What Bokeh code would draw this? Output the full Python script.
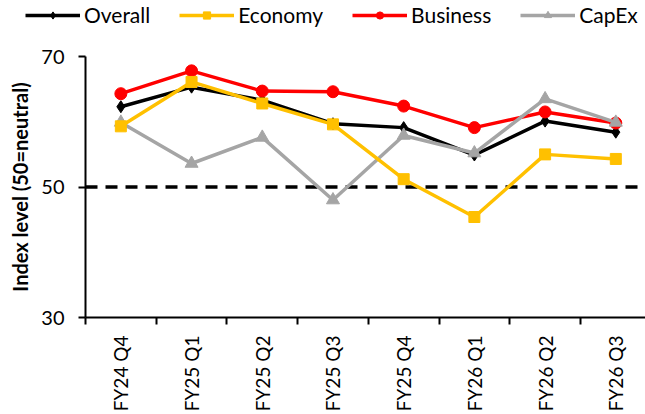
import math
from bokeh.plotting import figure
from bokeh.layouts import column
from bokeh.models import Range1d, FixedTicker, Legend, LegendItem, Span
from bokeh.embed import file_html
from bokeh.resources import INLINE

# ---- data ----
categories = ["FY24 Q4", "FY25 Q1", "FY25 Q2", "FY25 Q3",
              "FY25 Q4", "FY26 Q1", "FY26 Q2", "FY26 Q3"]
overall = [62.3, 65.3, 63.3, 59.7, 59.1, 54.9, 60.1, 58.4]
economy = [59.3, 66.1, 62.8, 59.6, 51.2, 45.4, 55.0, 54.3]
business = [64.3, 67.8, 64.7, 64.6, 62.4, 59.1, 61.5, 59.8]
capex = [59.9, 53.6, 57.6, 48.0, 57.9, 55.2, 63.5, 59.9]
y_ticks = [30, 50, 70]
neutral = 50
y_label = "Index level (50=neutral)"

FONT = "Lato"
W = 645
LEG_H = 30
xs = list(range(len(categories)))

# ---- main chart ----
p = figure(width=W, height=414 - LEG_H, output_backend="svg", toolbar_location=None,
           x_range=Range1d(-0.5, len(categories) - 0.58), y_range=Range1d(30, 70),
           min_border_left=85, min_border_right=0, min_border_top=56 - LEG_H,
           min_border_bottom=96)
p.frame_align = False
p.outline_line_color = None
p.grid.grid_line_color = None

p.add_layout(Span(location=neutral, dimension="width", line_color="black",
                  line_width=3.5, line_dash="12 8", level="underlay"))

series = [
    ("Overall", overall, "#000000", "diamond", 12),
    ("Business", business, "#FF0000", "circle", 12),
    ("CapEx", capex, "#A5A5A5", "triangle", 13),
    ("Economy", economy, "#FFC000", "square", 11),
]
styles = {}
for name, vals, col, mk, sz in series:
    p.line(xs, vals, line_color=col, line_width=3.5)
    p.scatter(xs, vals, marker=mk, size=sz, fill_color=col, line_color=col)
    styles[name] = (col, mk, sz)

# x axis
xa = p.xaxis[0]
xa.ticker = FixedTicker(ticks=xs, minor_ticks=[i - 0.5 for i in range(len(categories) + 1)])
xa.major_label_overrides = {i: c for i, c in enumerate(categories)}
xa.major_label_orientation = math.pi / 2
xa.major_tick_line_color = None
xa.major_tick_out = 0
xa.major_tick_in = 0
xa.minor_tick_out = 7
xa.minor_tick_in = 0
xa.minor_tick_line_color = "black"
xa.minor_tick_line_width = 2
xa.axis_line_color = "black"
xa.axis_line_width = 2
xa.major_label_standoff = 11
xa.major_label_text_font = FONT
xa.major_label_text_font_size = "19px"
xa.major_label_text_color = "black"

# y axis
ya = p.yaxis[0]
ya.ticker = FixedTicker(ticks=y_ticks, minor_ticks=[])
ya.major_tick_out = 7
ya.major_tick_in = 0
ya.major_tick_line_color = "black"
ya.major_tick_line_width = 2
ya.axis_line_color = "black"
ya.axis_line_width = 2
ya.major_label_standoff = 14
ya.major_label_text_font = FONT
ya.major_label_text_font_size = "20px"
ya.major_label_text_color = "black"
ya.axis_label = y_label
ya.axis_label_text_font = FONT
ya.axis_label_text_font_style = "bold"
ya.axis_label_text_font_size = "20px"
ya.axis_label_text_color = "black"
ya.axis_label_standoff = 6

# ---- legend strip ----
lf = figure(width=W, height=LEG_H, output_backend="svg", toolbar_location=None,
            x_range=Range1d(0, 1), y_range=Range1d(0, 1),
            x_axis_location=None, y_axis_location=None,
            min_border=0, min_border_left=0, min_border_right=0,
            min_border_top=0, min_border_bottom=0)
lf.frame_align = False
lf.outline_line_color = None
lf.grid.grid_line_color = None
items = []
for name in ["Overall", "Economy", "Business", "CapEx"]:
    col, mk, sz = styles[name]
    # off-range placeholder point: only the legend swatch is seen
    l = lf.line([-5, -4], [-5, -4], line_color=col, line_width=3.5)
    s = lf.scatter([-5], [-5], marker=mk, size=sz, fill_color=col, line_color=col)
    items.append(LegendItem(label=name, renderers=[l, s]))
legend = Legend(items=items, orientation="horizontal", location=(25, 3),
                glyph_width=55, glyph_height=18, label_height=16,
                label_standoff=4, spacing=29, padding=0, margin=0,
                border_line_color=None, background_fill_alpha=0,
                label_text_font=FONT, label_text_font_size="21px",
                label_text_color="black")
lf.add_layout(legend, "center")

layout = column(lf, p, spacing=0)
open("out.html", "w").write(file_html(layout, INLINE))
